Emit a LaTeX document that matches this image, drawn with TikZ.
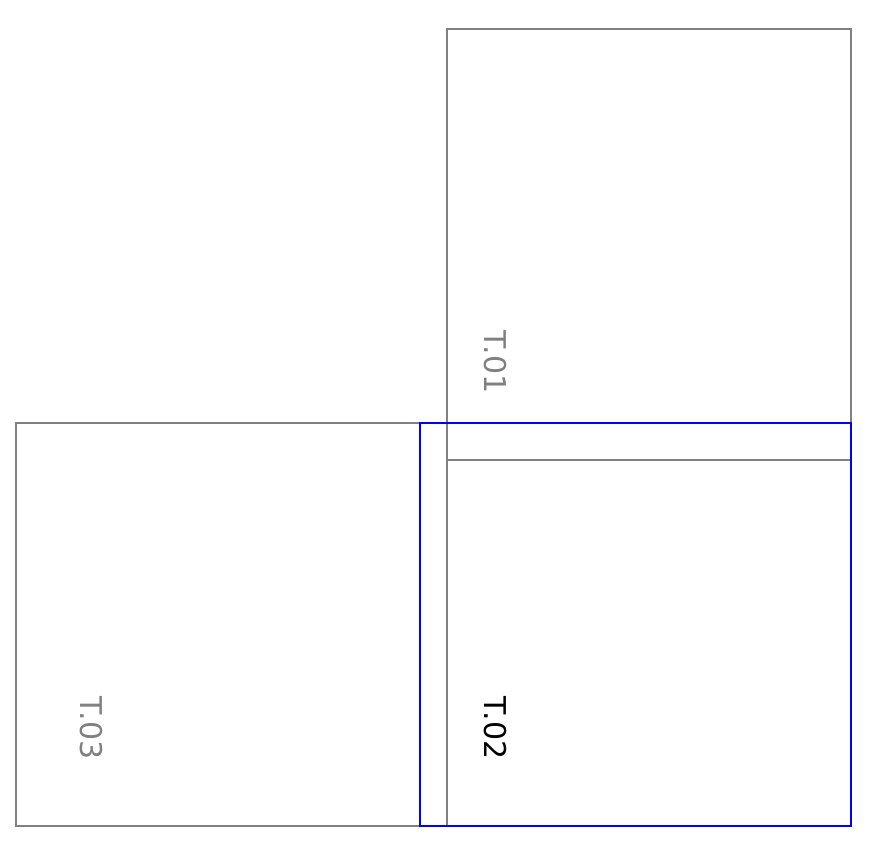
\documentclass[tikz,border=0pt]{standalone}
\usepackage{fontspec}
\setmainfont{DejaVu Sans}
\begin{document}
\begin{tikzpicture}[x=1pt,y=-1pt,
  room/.style={draw=gray,line width=1.1pt},
  sel/.style={draw=blue,line width=1.1pt},
  lbl/.style={font=\fontsize{30}{36}\selectfont,rotate=-90,inner sep=0pt}]
\useasboundingbox (0,0) rectangle (877,847);
% T.01 (parts not covered by the selection)
\draw[room] (447,460) -- (447,29) -- (851,29) -- (851,423);
\draw[room] (447,460) -- (851,460);
% T.02 left edge
\draw[room] (447,460) -- (447,826);
% T.03
\draw[room] (420,423) -- (16,423) -- (16,826) -- (420,826);
% selection
\draw[sel] (420,423) rectangle (851,826);
\node[lbl,text=gray] (t01) at (495,362) {T.01};
\node[lbl,text=black] (t02) at (495,728) {T.02};
\node[lbl,text=gray] (t03) at (91,728) {T.03};
\end{tikzpicture}
\end{document}
